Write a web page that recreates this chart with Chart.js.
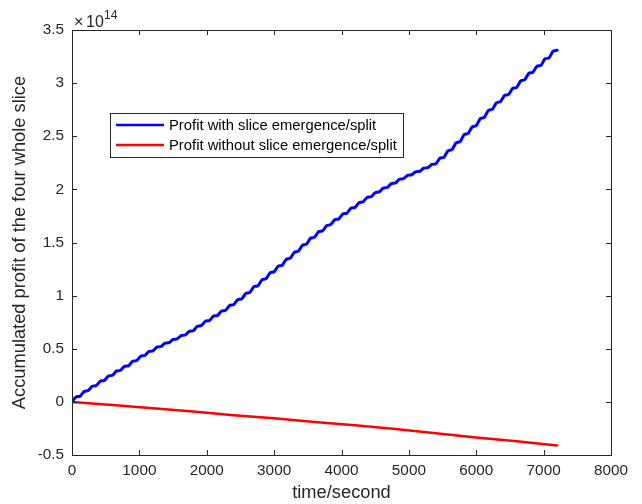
<!DOCTYPE html>
<html>
<head>
<meta charset="utf-8">
<script src="https://cdn.jsdelivr.net/npm/chart.js@4"></script>
<style>
  body { margin: 0; background: #fff; }
  canvas { display: block; }
</style>
</head>
<body>
<canvas id="profitChart" width="642" height="504"></canvas>
<script>
// values in units of 1e14, one sample every 60 s from 0 to 7200 s
const SAMPLE_SECONDS = 60;
const profitWithSplit = [
  0, 0.046, 0.054, 0.098, 0.106, 0.147, 0.154, 0.195, 0.202, 0.243, 0.25,
  0.29, 0.297, 0.334, 0.341, 0.382, 0.389, 0.43, 0.437, 0.474, 0.48,
  0.515, 0.521, 0.552, 0.557, 0.588, 0.593, 0.624, 0.629, 0.664, 0.67,
  0.711, 0.718, 0.759, 0.766, 0.807, 0.814, 0.855, 0.862, 0.907, 0.915,
  0.962, 0.97, 1.021, 1.03, 1.084, 1.093, 1.149, 1.159, 1.215, 1.225,
  1.277, 1.286, 1.342, 1.352, 1.408, 1.418, 1.474, 1.484, 1.54, 1.55,
  1.601, 1.61, 1.659, 1.668, 1.714, 1.722, 1.768, 1.776, 1.822, 1.83,
  1.875, 1.883, 1.924, 1.931, 1.969, 1.976, 2.012, 2.018, 2.054, 2.06,
  2.095, 2.101, 2.132, 2.137, 2.165, 2.17, 2.199, 2.204, 2.235, 2.24,
  2.293, 2.302, 2.363, 2.374, 2.438, 2.449, 2.515, 2.527, 2.589, 2.6,
  2.666, 2.678, 2.743, 2.754, 2.815, 2.826, 2.884, 2.894, 2.95, 2.96,
  3.021, 3.032, 3.092, 3.102, 3.158, 3.168, 3.228, 3.238, 3.299, 3.31
];

const noSplitTimes = [0, 600, 1200, 1800, 2400, 3000, 3600, 4200, 4800, 5400, 6000, 6600, 7200];
const profitWithoutSplit = [0, -0.03, -0.06, -0.09, -0.125, -0.155, -0.19, -0.22, -0.255, -0.295, -0.335, -0.37, -0.41];

const seriesLabels = ["Profit with slice emergence/split", "Profit without slice emergence/split"];
const seriesColors = ["#0000ff", "#ff0000"];

const TEXT = "#262626";
const FONT = "'Liberation Sans', Arial, sans-serif";

Chart.defaults.font.family = FONT;
Chart.defaults.color = TEXT;

const matlabAxes = {
  id: "matlabAxes",
  afterDraw(chart) {
    const { ctx, chartArea: a, scales: { x, y } } = chart;
    ctx.save();
    ctx.strokeStyle = TEXT;
    ctx.lineWidth = 1;
    ctx.strokeRect(a.left + 0.5, a.top + 0.5, a.right - a.left, a.bottom - a.top);

    ctx.beginPath();
    x.ticks.forEach((t) => {
      const px = Math.round(x.getPixelForValue(t.value)) + 0.5;
      ctx.moveTo(px, a.bottom);
      ctx.lineTo(px, a.bottom - 5);
      ctx.moveTo(px, a.top);
      ctx.lineTo(px, a.top + 5);
    });
    y.ticks.forEach((t) => {
      const py = Math.round(y.getPixelForValue(t.value)) + 0.5;
      ctx.moveTo(a.left, py);
      ctx.lineTo(a.left + 5, py);
      ctx.moveTo(a.right, py);
      ctx.lineTo(a.right - 5, py);
    });
    ctx.stroke();

    // exponent
    ctx.fillStyle = TEXT;
    ctx.textBaseline = "alphabetic";
    ctx.textAlign = "left";
    ctx.font = "16px " + FONT;
    ctx.fillText("\u00d7", 74, 27);
    ctx.fillText("10", 86, 27);
    ctx.font = "12px " + FONT;
    ctx.fillText("14", 104, 19);

    // legend
    ctx.fillStyle = "#fff";
    ctx.fillRect(111, 113, 292, 45);
    ctx.strokeStyle = TEXT;
    ctx.strokeRect(110.5, 113.5, 293, 44);
    ctx.font = "14.8px " + FONT;
    ctx.textBaseline = "middle";
    chart.data.datasets.forEach((ds, i) => {
      const ly = 125 + i * 20;
      ctx.strokeStyle = ds.borderColor;
      ctx.lineWidth = 2.5;
      ctx.beginPath();
      ctx.moveTo(116, ly);
      ctx.lineTo(164, ly);
      ctx.stroke();
      ctx.fillStyle = "#000";
      ctx.fillText(ds.label, 169, ly + 1);
    });
    ctx.restore();
  }
};

new Chart(document.getElementById("profitChart"), {
  type: "line",
  data: {
    datasets: [
      {
        label: seriesLabels[0],
        data: profitWithSplit.map((v, i) => ({ x: i * SAMPLE_SECONDS, y: v })),
        borderColor: seriesColors[0],
        borderWidth: 3,
        tension: 0.25
      },
      {
        label: seriesLabels[1],
        data: profitWithoutSplit.map((v, i) => ({ x: noSplitTimes[i], y: v })),
        borderColor: seriesColors[1],
        borderWidth: 2.5
      }
    ]
  },
  options: {
    responsive: false,
    animation: false,
    layout: { padding: { left: 0, right: 31, top: 30, bottom: 0 } },
    elements: { point: { radius: 0 }, line: { tension: 0, borderCapStyle: "round", borderJoinStyle: "round" } },
    plugins: { legend: { display: false }, tooltip: { enabled: false } },
    scales: {
      x: {
        type: "linear",
        min: 0,
        max: 8000,
        border: { display: false },
        grid: { display: false, drawTicks: false },
        ticks: { stepSize: 1000, padding: 7, font: { size: 15.3 }, callback: (v) => String(v), maxRotation: 0 },
        title: { display: true, text: "time/second", font: { size: 18.3 }, padding: { top: 0, bottom: 0 } },
        afterFit: (s) => { s.height = 49; }
      },
      y: {
        min: -0.5,
        max: 3.5,
        border: { display: false },
        grid: { display: false, drawTicks: false },
        ticks: { stepSize: 0.5, padding: 8, font: { size: 15.3 }, callback: (v) => String(v) },
        title: { display: true, text: "Accumulated profit of the four whole slice", font: { size: 18.3 }, padding: { top: 9, bottom: 0 } },
        afterFit: (s) => { s.width = 72; }
      }
    }
  },
  plugins: [matlabAxes]
});
</script>
</body>
</html>
